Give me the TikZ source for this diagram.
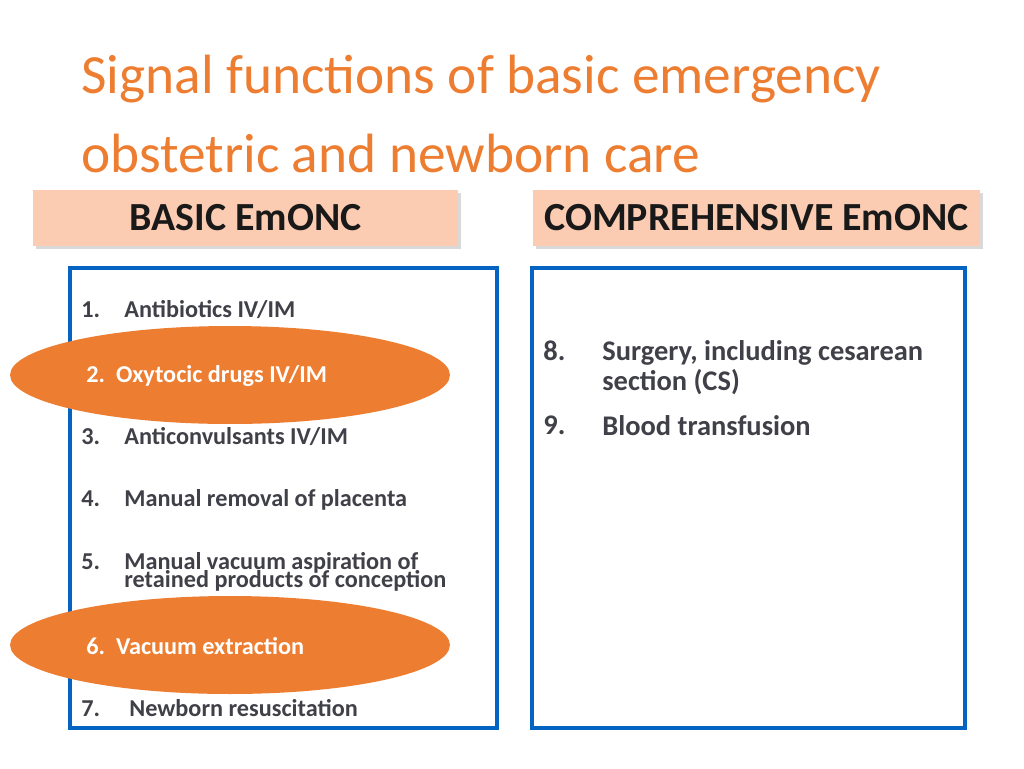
\documentclass[tikz,border=0pt]{standalone}
\usepackage{fontspec}
\setmainfont{Carlito}
\usetikzlibrary{shapes.geometric}
\definecolor{titleorange}{RGB}{237,125,49}
\definecolor{headpeach}{RGB}{251,204,178}
\definecolor{boxblue}{RGB}{5,99,193}
\definecolor{itemgray}{RGB}{64,64,72}
\newcommand{\numbox}[2]{\makebox[#1][l]{#2}}
\begin{document}
\begin{tikzpicture}[x=0.02cm, y=-0.02cm]
        \tikzset{
            head/.style={fill=headpeach, draw=none, minimum height=1.12cm, font=\fontsize{22.7}{24}\selectfont\bfseries, text=black!90},
            panel/.style={draw=boxblue, line width=2.2pt, fill=white},
            item/.style={anchor=west, font=\fontsize{13.8}{13.8}\selectfont\bfseries, text=itemgray, align=left, inner sep=0pt},
            bigitem/.style={anchor=north west, font=\fontsize{16.2}{17}\selectfont\bfseries, text=itemgray, align=left, inner sep=0pt},
            blob/.style={ellipse, fill=titleorange, draw=none, minimum width=8.8cm, minimum height=1.96cm}
        }
        \useasboundingbox [fill=white] (0,0) rectangle (1024,768);

        \node [anchor=west, font=\fontsize{31.5}{44.5}\selectfont, text=titleorange, align=left, inner sep=0pt] (title) at (81,114)
            {Signal functions of basic emergency\\obstetric and newborn care};

        \fill [black!15] (36,193) rectangle (461,249);
        \fill [black!15] (536,193) rectangle (983,249);
        \node [head, minimum width=8.5cm] (basic) at (245.5,218) {BASIC EmONC};
        \node [head, minimum width=8.94cm] (comp) at (756.5,218) {COMPREHENSIVE EmONC};

        \draw [panel] (70,268) rectangle (497,728);
        \draw [panel] (532,268) rectangle (965,728);

        \node [blob] (E2) at (230,375) {};
        \node [blob] (E6) at (230,645) {};

        \node [item] (I1) at (81,310) {\numbox{0.86cm}{1.}Antibiotics IV/IM};
        \node [item, text=white] (I2) at (86,376) {2.\ \ Oxytocic drugs IV/IM};
        \node [item] (I3) at (81,437) {\numbox{0.86cm}{3.}Anticonvulsants IV/IM};
        \node [item] (I4) at (81,500) {\numbox{0.86cm}{4.}Manual removal of placenta};
        \node [item] (I5) at (81,563) {\numbox{0.86cm}{5.}Manual vacuum aspiration of};
        \node [item] (I5b) at (124,581) {retained products of conception};
        \node [item, text=white] (I6) at (86,646) {6.\ \ Vacuum extraction};
        \node [item] (I7) at (81,708) {\numbox{0.96cm}{7.}Newborn resuscitation};

        \node [bigitem] (N8) at (543,340) {8.};
        \node [bigitem] (T8) at (602,340) {Surgery, including cesarean\\section (CS)};
        \node [bigitem] (N9) at (543,415) {9.};
        \node [bigitem] (T9) at (602,415) {Blood transfusion};
\end{tikzpicture}
\end{document}
